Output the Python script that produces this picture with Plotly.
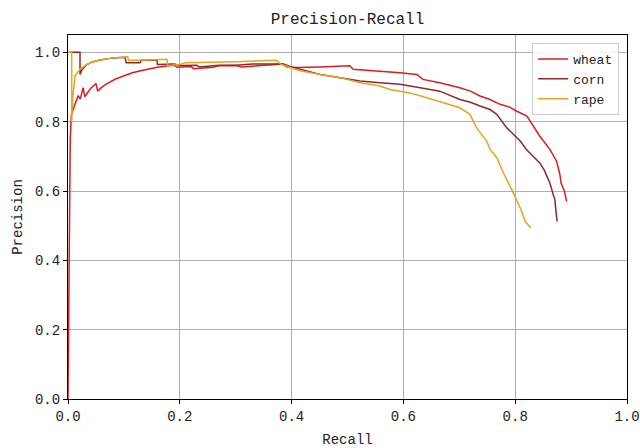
import plotly.graph_objects as go

labels = ["wheat", "corn", "rape"]
colors = ["#D81E22", "#8B2A2A", "#E9A31C"]

wheat_recall = [0.0, 0.002, 0.003, 0.004, 0.006, 0.010, 0.014, 0.018, 0.022, 0.027, 0.030, 0.040, 0.050,
                0.053, 0.060, 0.070, 0.085, 0.100, 0.115, 0.130, 0.145, 0.160, 0.180, 0.190, 0.195, 0.220,
                0.225, 0.260, 0.270, 0.300, 0.310, 0.350, 0.370, 0.385, 0.390, 0.410, 0.450, 0.504, 0.510,
                0.552, 0.594, 0.624, 0.635, 0.665, 0.701, 0.720, 0.737, 0.755, 0.773, 0.790, 0.803, 0.821,
                0.832, 0.844, 0.862, 0.874, 0.880, 0.882, 0.888, 0.892]
wheat_precision = [0.0, 0.30, 0.60, 0.75, 0.82, 0.84, 0.86, 0.875, 0.865, 0.898, 0.872, 0.895, 0.910,
                   0.888, 0.899, 0.910, 0.923, 0.933, 0.941, 0.947, 0.952, 0.957, 0.961, 0.963, 0.957, 0.959,
                   0.953, 0.957, 0.961, 0.962, 0.958, 0.962, 0.964, 0.966, 0.958, 0.956, 0.958, 0.961, 0.951,
                   0.947, 0.941, 0.936, 0.922, 0.912, 0.898, 0.888, 0.874, 0.864, 0.850, 0.842, 0.830, 0.816,
                   0.787, 0.758, 0.720, 0.686, 0.647, 0.623, 0.600, 0.570]

corn_recall = [0.0, 0.0215, 0.0215, 0.025, 0.033, 0.045, 0.057, 0.081, 0.102, 0.104, 0.129, 0.131, 0.159,
               0.160, 0.190, 0.200, 0.230, 0.235, 0.270, 0.300, 0.330, 0.370, 0.385, 0.400, 0.415, 0.451,
               0.487, 0.522, 0.558, 0.594, 0.630, 0.665, 0.701, 0.720, 0.737, 0.755, 0.767, 0.785, 0.809,
               0.820, 0.832, 0.844, 0.852, 0.862, 0.868, 0.871, 0.873, 0.875]
corn_precision = [1.0, 1.0, 0.936, 0.950, 0.964, 0.973, 0.978, 0.984, 0.986, 0.970, 0.970, 0.977, 0.977,
                  0.965, 0.966, 0.962, 0.963, 0.958, 0.963, 0.963, 0.966, 0.967, 0.966, 0.958, 0.952, 0.936,
                  0.927, 0.917, 0.912, 0.908, 0.898, 0.888, 0.864, 0.856, 0.845, 0.835, 0.821, 0.782, 0.744,
                  0.720, 0.700, 0.681, 0.660, 0.623, 0.590, 0.575, 0.540, 0.512]

rape_recall = [0.0, 0.0066, 0.0066, 0.008, 0.0125, 0.0215, 0.033, 0.045, 0.057, 0.081, 0.107, 0.108, 0.140,
               0.177, 0.178, 0.200, 0.210, 0.250, 0.300, 0.373, 0.380, 0.400, 0.415, 0.451, 0.487, 0.522,
               0.558, 0.576, 0.612, 0.642, 0.671, 0.701, 0.719, 0.731, 0.749, 0.755, 0.767, 0.779, 0.797,
               0.809, 0.818, 0.828]
rape_precision = [1.0, 1.0, 0.80, 0.86, 0.932, 0.951, 0.965, 0.973, 0.978, 0.984, 0.987, 0.977, 0.978,
                  0.980, 0.962, 0.965, 0.970, 0.971, 0.973, 0.977, 0.966, 0.955, 0.947, 0.936, 0.927, 0.912,
                  0.903, 0.893, 0.883, 0.869, 0.854, 0.840, 0.821, 0.782, 0.744, 0.720, 0.696, 0.652, 0.594,
                  0.551, 0.512, 0.493]

x_ticks = [0.0, 0.2, 0.4, 0.6, 0.8, 1.0]
y_ticks = [0.0, 0.2, 0.4, 0.6, 0.8, 1.0]

series = [(wheat_recall, wheat_precision), (corn_recall, corn_precision), (rape_recall, rape_precision)]

FONT = "Liberation Mono"

fig = go.Figure()
for name, color, (r, p) in zip(labels, colors, series):
    fig.add_trace(go.Scatter(x=r, y=p, mode="lines", name=name,
                             line=dict(color=color, width=1.5)))

axis_common = dict(
    showgrid=True, gridcolor="#b0b0b0", gridwidth=1,
    showline=True, linecolor="black", linewidth=1.2, mirror=True,
    ticks="outside", ticklen=4, tickcolor="black", tickwidth=1,
    zeroline=False, automargin=False,
    tickfont=dict(family=FONT, size=14, color="#222"),
    title_font=dict(family=FONT, size=14, color="#222"),
)

fig.update_layout(
    width=640, height=448,
    margin=dict(l=68, r=13, t=35, b=49),
    paper_bgcolor="white", plot_bgcolor="white",
    title=dict(text="Precision-Recall", xref="paper", x=0.5, xanchor="center",
               yref="container", y=0.96, yanchor="middle",
               font=dict(family=FONT, size=16, color="#222")),
    xaxis=dict(range=[0, 1.0], tickvals=x_ticks, ticktext=[f"{v:.1f}" for v in x_ticks],
               title=dict(text="Recall", standoff=10), **axis_common),
    yaxis=dict(range=[0, 1.05], tickvals=y_ticks, ticktext=[f"{v:.1f}" for v in y_ticks],
               title=dict(text="Precision", standoff=8), **axis_common),
    legend=dict(x=0.986, y=0.978, xanchor="right", yanchor="top",
                bgcolor="rgba(255,255,255,0.85)", bordercolor="#cccccc", borderwidth=1,
                font=dict(family=FONT, size=13, color="#222"), tracegroupgap=0),
    showlegend=True,
)

fig.write_html("out.html", config={"displayModeBar": False},
               post_script="document.body.style.margin='0';document.body.style.overflow='hidden';")
